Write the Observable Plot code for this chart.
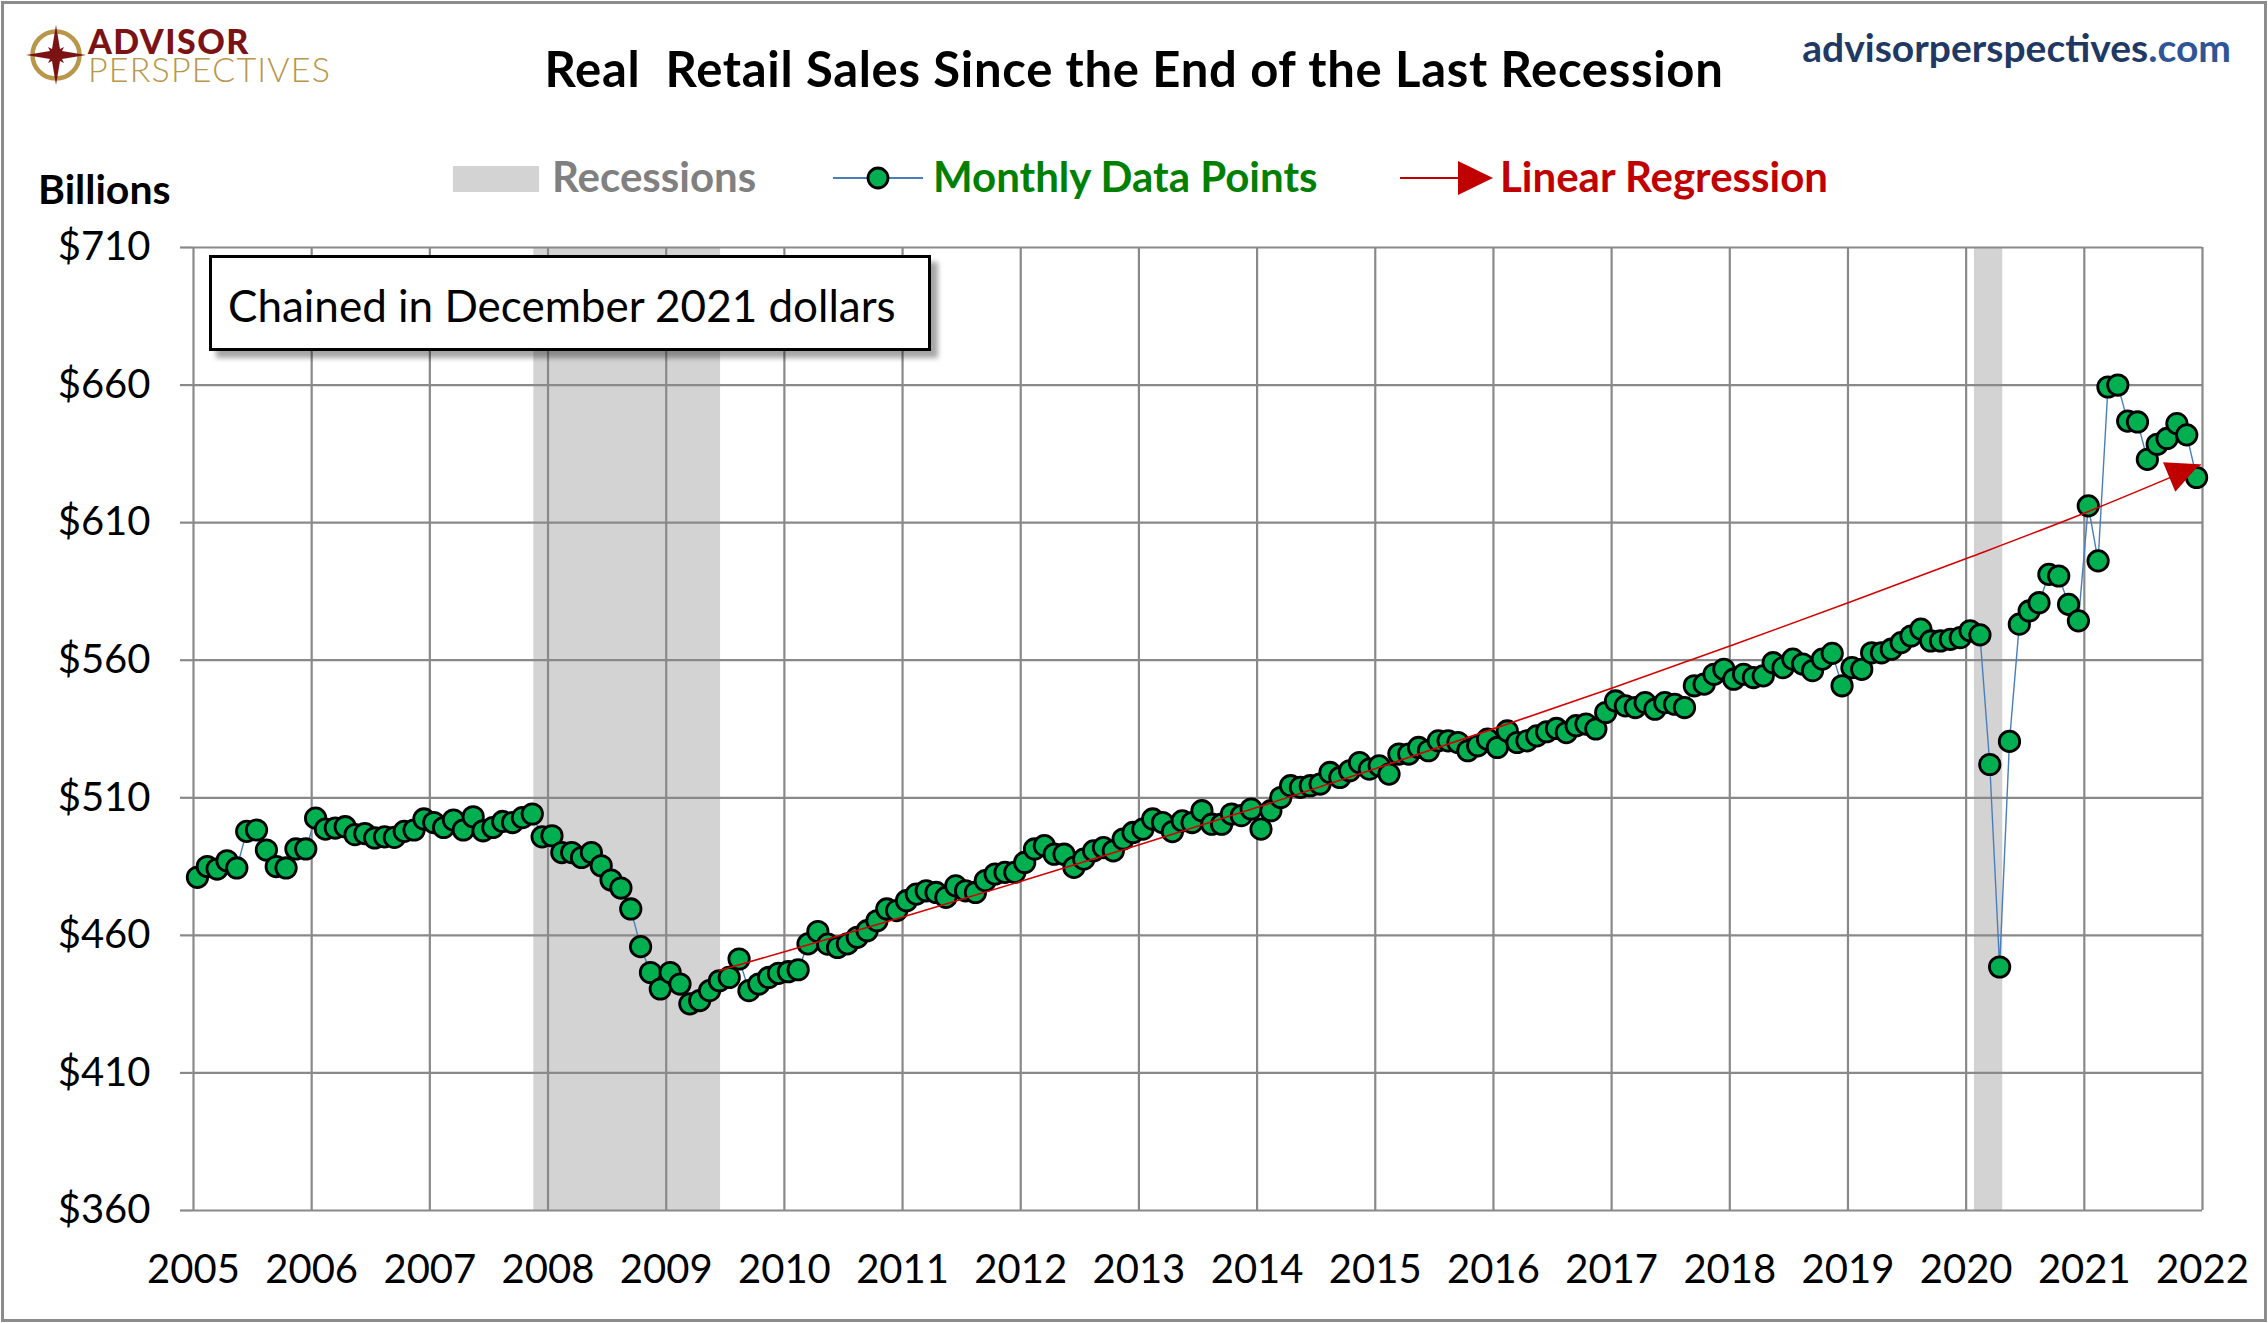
<!DOCTYPE html>
<html>
<head>
<meta charset="utf-8">
<script src="https://cdn.jsdelivr.net/npm/d3@7"></script>
<script src="https://cdn.jsdelivr.net/npm/@observablehq/plot@0.6"></script>
<style>
html, body { margin: 0; padding: 0; background: #fff; }
#page { position: relative; width: 2268px; height: 1323px; overflow: hidden; font-family: Lato, "Open Sans", sans-serif; background: #fff; }
#page svg.chart { position: absolute; left: 0; top: 0; }
.abs { position: absolute; white-space: nowrap; line-height: 1; }
.logo { white-space: pre; color: #b8964a; font-weight: 300; letter-spacing: 1.2px; }
.logo::first-line { color: #7b1315; font-weight: 900; letter-spacing: 1.5px; }
</style>
</head>
<body>
<div id="page"></div>
<script>
// ---- Data ----
const startYear = 2005;
const sales2005 = [481.1, 485.0, 484.1, 487.1, 484.5, 497.8, 498.3, 491.0, 485.0, 484.5, 491.4, 491.4];
const sales2006 = [502.6, 498.6, 499.0, 499.5, 496.6, 497.0, 495.4, 495.8, 495.6, 497.8, 498.3, 502.3];
const sales2007 = [501.0, 499.2, 501.9, 498.3, 503.1, 498.0, 499.2, 501.4, 501.0, 502.8, 504.1, 495.8];
const sales2008 = [496.2, 490.1, 490.1, 488.3, 490.1, 485.3, 480.1, 477.2, 469.6, 455.9, 446.5, 440.5];
const sales2009 = [446.5, 442.3, 435.1, 436.3, 439.9, 443.5, 444.7, 451.4, 439.9, 442.3, 444.7, 446.2];
const sales2010 = [446.8, 447.5, 456.9, 461.4, 456.8, 455.6, 456.9, 459.3, 461.7, 465.3, 469.6, 469.0];
const sales2011 = [472.6, 475.0, 476.2, 475.6, 473.8, 478.0, 476.2, 475.6, 479.9, 482.3, 482.9, 482.9];
const sales2012 = [486.5, 491.4, 492.6, 489.5, 489.5, 484.7, 487.7, 490.7, 491.9, 490.7, 495.0, 497.4];
const sales2013 = [498.6, 502.3, 501.0, 497.7, 501.6, 501.0, 505.3, 500.4, 500.4, 504.1, 503.5, 505.9];
const sales2014 = [498.6, 505.3, 510.1, 514.4, 513.8, 514.4, 515.0, 519.2, 517.4, 519.8, 522.8, 520.4];
const sales2015 = [521.6, 518.6, 525.9, 525.9, 528.3, 527.1, 530.7, 530.7, 530.1, 527.1, 528.9, 531.3];
const sales2016 = [528.3, 534.3, 530.1, 530.7, 532.5, 534.0, 535.2, 533.7, 536.2, 536.8, 535.0, 541.0];
const sales2017 = [545.2, 543.4, 542.8, 544.6, 542.2, 544.6, 544.0, 542.8, 550.7, 551.3, 554.9, 556.7];
const sales2018 = [553.1, 554.9, 553.7, 554.3, 559.1, 557.3, 560.4, 558.6, 556.2, 560.4, 562.5, 550.7];
const sales2019 = [557.3, 556.7, 562.7, 562.7, 564.0, 566.4, 568.8, 571.3, 567.0, 567.0, 567.6, 568.2];
const sales2020 = [570.7, 569.2, 522.1, 448.5, 530.5, 573.1, 577.9, 580.9, 591.2, 590.6, 580.3, 574.3];
const sales2021 = [616.1, 596.1, 659.3, 660.0, 646.9, 646.6, 633.0, 638.5, 640.6, 646.0, 641.9, 626.4];

// Recession periods (decimal years)
const recessionStart = [2007.88, 2020.07];
const recessionEnd   = [2009.46, 2020.31];

// Regression trend line (decimal year, value)
const trendYears  = [2009.45, 2010.03, 2011.03, 2012.03, 2013.03, 2014.03, 2015.03, 2016.03, 2017.03, 2018.03, 2019.03, 2020.03, 2021.03, 2021.98];
const trendValues = [447.2, 454.4, 467.0, 480.0, 493.3, 506.9, 521.0, 535.5, 550.3, 565.6, 581.3, 597.4, 614.0, 631.0];

const yearTicks = d3.range(2005, 2023);
const valueTicks = [360, 410, 460, 510, 560, 610, 660, 710];

// ---- Build tables ----
const yearly = [sales2005, sales2006, sales2007, sales2008, sales2009, sales2010, sales2011, sales2012,
  sales2013, sales2014, sales2015, sales2016, sales2017, sales2018, sales2019, sales2020, sales2021];
const monthly = [];
yearly.forEach((arr, k) => arr.forEach((v, m) => monthly.push({x: startYear + k + (m + 0.4) / 12, y: v})));
const recessions = recessionStart.map((s, i) => ({start: s, end: recessionEnd[i]}));
const trend = trendYears.map((t, i) => ({x: t, y: trendValues[i]}));

const gridColor = "#898989";

function arrowHead(index, scales) {
  const n = trend.length;
  const x1 = scales.x(trend[n - 2].x), y1 = scales.y(trend[n - 2].y);
  const x2 = scales.x(trend[n - 1].x), y2 = scales.y(trend[n - 1].y);
  const a = Math.atan2(y2 - y1, x2 - x1);
  const L = 33, W = 16;
  const bx = x2 - L * Math.cos(a), by = y2 - L * Math.sin(a);
  const px = -Math.sin(a) * W, py = Math.cos(a) * W;
  const p = document.createElementNS("http://www.w3.org/2000/svg", "path");
  p.setAttribute("d", `M${x2},${y2}L${bx + px},${by + py}L${bx - px},${by - py}Z`);
  p.setAttribute("fill", "#c00000");
  return p;
}

const chart = Plot.plot({
  width: 2268,
  height: 1323,
  marginLeft: 193,
  marginRight: 66,
  marginTop: 247,
  marginBottom: 113,
  x: {domain: [2005, 2022], type: "linear"},
  y: {domain: [360, 710]},
  style: {fontFamily: "Lato, 'Open Sans', sans-serif", fontSize: "40px", color: "#000", background: "transparent", overflow: "visible"},
  marks: [
    Plot.rect(recessions, {x1: "start", x2: "end", y1: 360, y2: 710, fill: "#d3d3d3"}),
    Plot.gridX(yearTicks, {stroke: gridColor, strokeOpacity: 1, strokeWidth: 2.2}),
    Plot.gridY(valueTicks, {stroke: gridColor, strokeOpacity: 1, strokeWidth: 2.2}),
    Plot.axisY(valueTicks, {tickFormat: d => "$" + d, tickSize: 13, tickPadding: 30, stroke: gridColor, strokeWidth: 2.2, fontSize: 40, label: null}),
    Plot.axisX(yearTicks, {tickFormat: d => String(d), tickSize: 0, tickPadding: 44, fontSize: 40, label: null}),
    Plot.line(monthly, {x: "x", y: "y", stroke: "#4a7ebb", strokeWidth: 1.4}),
    Plot.dot(monthly, {x: "x", y: "y", r: 10.2, fill: "#00b050", stroke: "#000", strokeWidth: 2.8}),
    Plot.line(trend, {x: "x", y: "y", stroke: "#d40000", strokeWidth: 1.6, curve: "monotone-x"}),
    arrowHead
  ]
});
chart.classList.add("chart");
const page = document.getElementById("page");
page.appendChild(chart);

// ---- Overlays: logo, title, legend, note ----
function addEl(html, style, cls) {
  const d = document.createElement("div");
  d.className = "abs" + (cls ? " " + cls : "");
  d.innerHTML = html;
  Object.assign(d.style, style);
  page.appendChild(d);
  return d;
}

// Logo compass
addEl(`<svg width="62" height="62" viewBox="0 0 62 62">
  <circle cx="31" cy="31" r="23.5" fill="none" stroke="#b8964a" stroke-width="4.5"/>
  <polygon fill="#7b1315" points="31,1 35,25 39,23 37,27 61,31 37,35 39,39 35,37 31,61 27,37 23,39 25,35 1,31 25,27 23,23 27,25"/>
  </svg>`, {left: "25px", top: "24px"});
addEl("ADVISOR\nPERSPECTIVES", {left: "88px", top: "27px", fontSize: "34px", lineHeight: "28px"}, "logo");

// Title
addEl("Real&nbsp; Retail Sales Since the End of the Last Recession",
  {left: "0px", width: "2268px", textAlign: "center", top: "44px", fontSize: "49px", letterSpacing: "0.7px", fontWeight: "700", color: "#000"});

// Website
addEl(`<span style="color:#1f3864">advisorperspectives</span><span style="color:#2f5597">.com</span>`,
  {right: "37px", top: "28px", fontSize: "39px", fontWeight: "700"});

// Y unit label
addEl("Billions", {left: "38px", top: "168px", fontSize: "41px", fontWeight: "700", color: "#000"});

// Legend
addEl("", {left: "453px", top: "166px", width: "86px", height: "26px", background: "#d3d3d3"});
addEl("Recessions", {left: "552px", top: "155px", fontSize: "42px", fontWeight: "700", color: "#808080"});
addEl(`<svg width="92" height="30" viewBox="0 0 92 30"><line x1="0" y1="15" x2="90" y2="15" stroke="#4a7ebb" stroke-width="2"/><circle cx="45" cy="15" r="10" fill="#00b050" stroke="#000" stroke-width="2.8"/></svg>`,
  {left: "833px", top: "163px"});
addEl("Monthly Data Points", {left: "933px", top: "155px", fontSize: "42px", fontWeight: "700", color: "#008000"});
addEl(`<svg width="96" height="40" viewBox="0 0 96 40"><line x1="0" y1="20" x2="62" y2="20" stroke="#c00000" stroke-width="2"/><polygon points="58,3 93,20 58,37" fill="#c00000"/></svg>`,
  {left: "1400px", top: "158px"});
addEl("Linear Regression", {left: "1500px", top: "155px", fontSize: "42px", fontWeight: "700", color: "#c00000"});

// Note box
addEl("Chained in December 2021 dollars", {left: "209px", top: "255px", width: "722px", height: "96px", boxSizing: "border-box",
  border: "3px solid #000", background: "#fff", boxShadow: "7px 7px 5px rgba(0,0,0,0.35)",
  fontSize: "44px", paddingLeft: "16px", paddingTop: "25px", color: "#000"});

// Outer border
addEl("", {left: "1px", top: "1px", width: "2266px", height: "1321px", boxSizing: "border-box", border: "3px solid #8c8c8c", pointerEvents: "none"});
</script>
</body>
</html>
